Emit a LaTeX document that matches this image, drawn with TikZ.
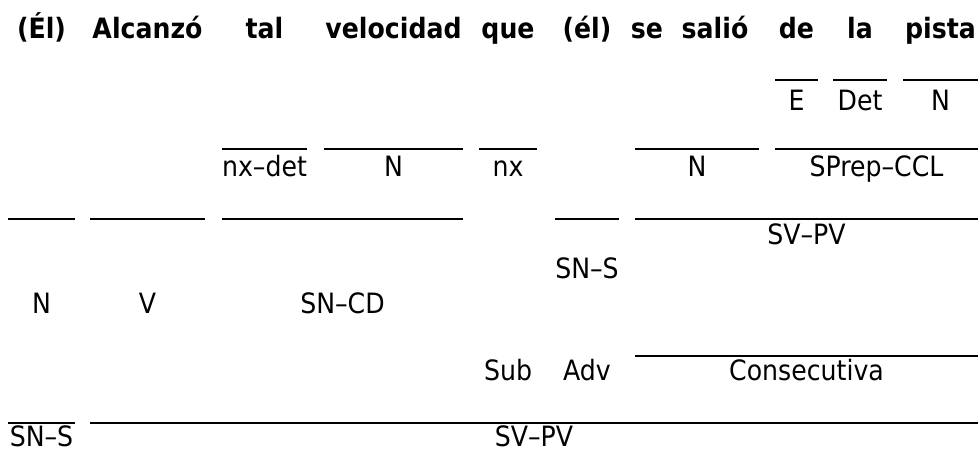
\documentclass[tikz,border=0pt]{standalone}
\usepackage{fontspec}
\setmainfont{DejaVu Sans}[FakeStretch=0.9]
\begin{document}
\begin{tikzpicture}[x=1pt,y=-1pt,
  lbl/.style={anchor=base,inner sep=0pt,font=\fontsize{28}{34}\selectfont},
  wrd/.style={anchor=base,inner sep=0pt,font=\fontsize{28}{34}\selectfont\bfseries},
  bar/.style={line width=2pt}]
\useasboundingbox (0,0) rectangle (979,452);
% sentence
\node[wrd] (w1) at (41.5,39) {(Él)};
\node[wrd] (w2) at (147.5,39) {Alcanzó};
\node[wrd] (w3) at (264.5,39) {tal};
\node[wrd] (w4) at (393.5,39) {velocidad};
\node[wrd] (w5) at (508,39) {que};
\node[wrd] (w6) at (587,39) {(él)};
\node[wrd] (w7) at (647,39) {se};
\node[wrd] (w8) at (715,39) {salió};
\node[wrd] (w9) at (796.5,39) {de};
\node[wrd] (w10) at (860,39) {la};
\node[wrd] (w11) at (940.5,39) {pista};
% row 2
\draw[bar] (775,80) -- (818,80);
\draw[bar] (833,80) -- (887,80);
\draw[bar] (903,80) -- (978,80);
\node[lbl] (e) at (796.5,110) {E};
\node[lbl] (det) at (860,110) {Det};
\node[lbl] (n3) at (940.5,110) {N};
% row 3
\draw[bar] (222,149) -- (307,149);
\draw[bar] (324,149) -- (463,149);
\draw[bar] (479,149) -- (537,149);
\draw[bar] (635,149) -- (759,149);
\draw[bar] (775,149) -- (978,149);
\node[lbl] (nxdet) at (264.5,176) {nx–det};
\node[lbl] (n1) at (393.5,176) {N};
\node[lbl] (nx) at (508,176) {nx};
\node[lbl] (n2) at (697,176) {N};
\node[lbl] (sprep) at (876.5,176) {SPrep–CCL};
% row 4
\draw[bar] (8,219) -- (75,219);
\draw[bar] (90,219) -- (205,219);
\draw[bar] (222,219) -- (463,219);
\draw[bar] (555,219) -- (619,219);
\draw[bar] (635,219) -- (978,219);
\node[lbl] (svpv2) at (806.5,244) {SV–PV};
\node[lbl] (sns2) at (587,278) {SN–S};
\node[lbl] (n0) at (41.5,313) {N};
\node[lbl] (v) at (147.5,313) {V};
\node[lbl] (sncd) at (342.5,313) {SN–CD};
% row 5
\draw[bar] (635,356) -- (978,356);
\node[lbl] (sub) at (508,380) {Sub};
\node[lbl] (adv) at (587,380) {Adv};
\node[lbl] (cons) at (806.5,380) {Consecutiva};
% row 6
\draw[bar] (8,423) -- (75,423);
\draw[bar] (90,423) -- (978,423);
\node[lbl] (sns1) at (41.5,446) {SN–S};
\node[lbl] (svpv1) at (534,446) {SV–PV};
\end{tikzpicture}
\end{document}
